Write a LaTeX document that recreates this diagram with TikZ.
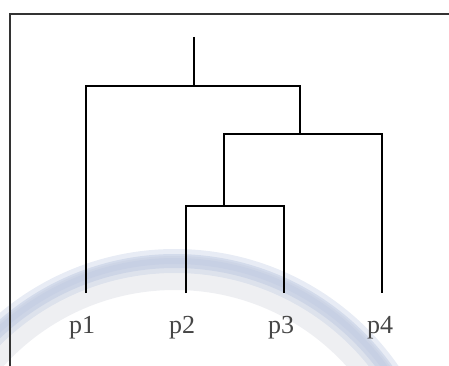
\documentclass[tikz,border=0pt]{standalone}
\usepackage{fontspec}
\setmainfont{Liberation Serif}
\definecolor{ringblue}{RGB}{190,201,225}
\definecolor{ringgray}{RGB}{222,224,230}
\definecolor{labelgray}{RGB}{70,70,70}
\tikzset{
  branch/.style={line width=1.4pt, black},
  frameline/.style={line width=1.8pt, black!80},
  leaflabel/.style={text=labelgray, font=\fontsize{26}{30}\selectfont, anchor=base, inner sep=0pt},
}
\begin{document}
\begin{tikzpicture}[x=1pt,y=-1pt]
\useasboundingbox (0,0) rectangle (449,366);
% faded watermark ring
\begin{scope}
\clip (0,243) rectangle (449,366);
\draw[ringgray, line width=34pt, opacity=0.5] (175,521) circle[radius=248];
\draw[ringblue, line width=24pt, opacity=0.35] (175,521) circle[radius=260];
\draw[ringblue, line width=14pt, opacity=0.5] (175,521) circle[radius=260];
\draw[ringblue, line width=6pt, opacity=0.4] (175,521) circle[radius=260];
\end{scope}
% frame
\coordinate (fb) at (10,366);
\coordinate (fc) at (10,14);
\coordinate (fr) at (449,14);
\draw[frameline] (fb) -- (fc) -- (fr);
% labels
\node[leaflabel] (p1) at (82,333) {p1};
\node[leaflabel] (p2) at (182,333) {p2};
\node[leaflabel] (p3) at (281,333) {p3};
\node[leaflabel] (p4) at (380,333) {p4};
% leaf ends
\coordinate (l1) at (86,293);
\coordinate (l2) at (186,293);
\coordinate (l3) at (284,293);
\coordinate (l4) at (382,293);
% merges
\coordinate (m23) at (224,206);
\coordinate (m234) at (300,134);
\coordinate (root) at (194,86);
\coordinate (top) at (194,37);
\draw[branch] (l2) |- (m23) -| (l3);
\draw[branch] (m23) -- (m23 |- m234) -| (l4);
\draw[branch] (l1) |- (m234 |- root) -- (m234);
\draw[branch] (top) -- (root);
\end{tikzpicture}
\end{document}
